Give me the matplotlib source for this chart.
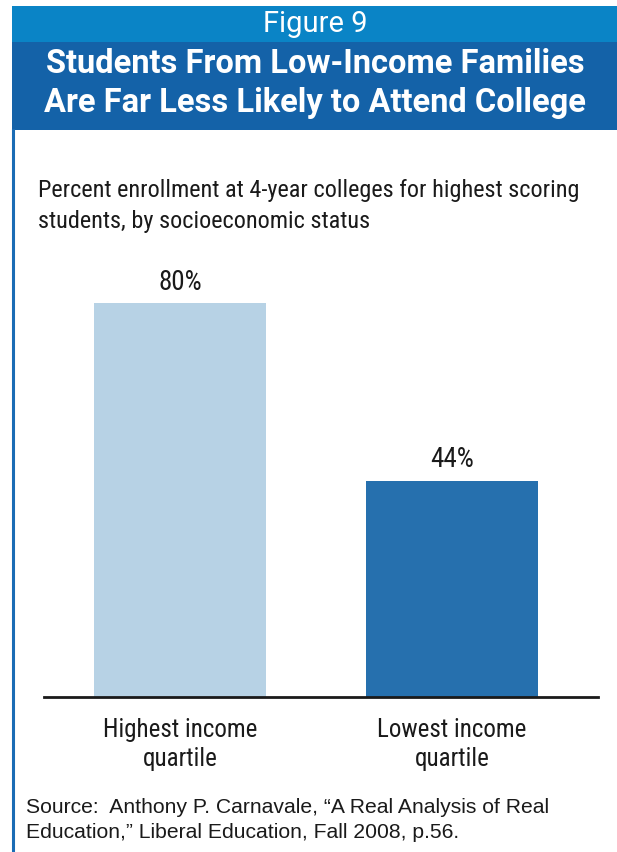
import matplotlib.pyplot as plt
from matplotlib.patches import Rectangle
from matplotlib.lines import Line2D

# Data
categories = ["Highest income\nquartile", "Lowest income\nquartile"]
values = [80, 44]
value_labels = ["80%", "44%"]
bar_colors = ["#b7d2e5", "#2670ae"]

W, H = 617, 852
fig = plt.figure(figsize=(W / 100, H / 100), dpi=100)

def fx(px):
    return px / W

def fy(py):
    return 1 - py / H

cond = ["Roboto Condensed", "DejaVu Sans"]
rob = ["Roboto", "DejaVu Sans"]
ink = "#1a1a1a"

# Header bands
fig.add_artist(Rectangle((fx(12), fy(42)), fx(W - 12), (42 - 6) / H,
                         transform=fig.transFigure, color="#0a84c6", lw=0))
fig.add_artist(Rectangle((fx(12), fy(130)), fx(W - 12), (130 - 42) / H,
                         transform=fig.transFigure, color="#1462a8", lw=0))
# left border
fig.add_artist(Line2D([fx(13), fx(13)], [0, fy(130)], transform=fig.transFigure,
                      color="#1a6cb5", lw=2.2))

fig.text(fx(315), fy(24), "Figure 9", color="white", fontsize=21,
         family=rob, ha="center", va="center")
fig.text(fx(315), fy(64), "Students From Low-Income Families", color="white",
         fontsize=23.5, fontweight="bold", family=rob, ha="center", va="center")
fig.text(fx(315), fy(103), "Are Far Less Likely to Attend College", color="white",
         fontsize=23.5, fontweight="bold", family=rob, ha="center", va="center")

fig.text(fx(38), fy(206), "Percent enrollment at 4-year colleges for highest scoring\n"
         "students, by socioeconomic status", color=ink, fontsize=17.5,
         family=cond, ha="left", va="center", linespacing=1.45)

# Chart
ax = fig.add_axes([fx(44), 155 / H, fx(598 - 44), 492 / H])
x = [0, 1]
ax.bar(x, values, width=0.632, color=bar_colors)
for xi, v, lab in zip(x, values, value_labels):
    ax.text(xi, v + 1.6, lab, ha="center", va="bottom", fontsize=19.5,
            family=cond, color=ink)
ax.set_xlim(-0.5, 1.537)
ax.set_ylim(0, 100)
for s in ["top", "right", "left"]:
    ax.spines[s].set_visible(False)
ax.spines["bottom"].set_linewidth(2)
ax.spines["bottom"].set_color(ink)
ax.set_yticks([])
ax.set_xticks(x)
ax.set_xticklabels(categories, fontsize=18, family=cond, color=ink,
                   linespacing=1.25)
ax.tick_params(axis="x", length=0, pad=15)

fig.text(fx(26), fy(820), "Source:  Anthony P. Carnavale, \u201cA Real Analysis of Real\n"
         "Education,\u201d Liberal Education, Fall 2008, p.56.", color=ink,
         fontsize=15.2, family=["Liberation Sans", "DejaVu Sans"], ha="left",
         va="center", linespacing=1.45)

fig.savefig("out.png", dpi=100)
